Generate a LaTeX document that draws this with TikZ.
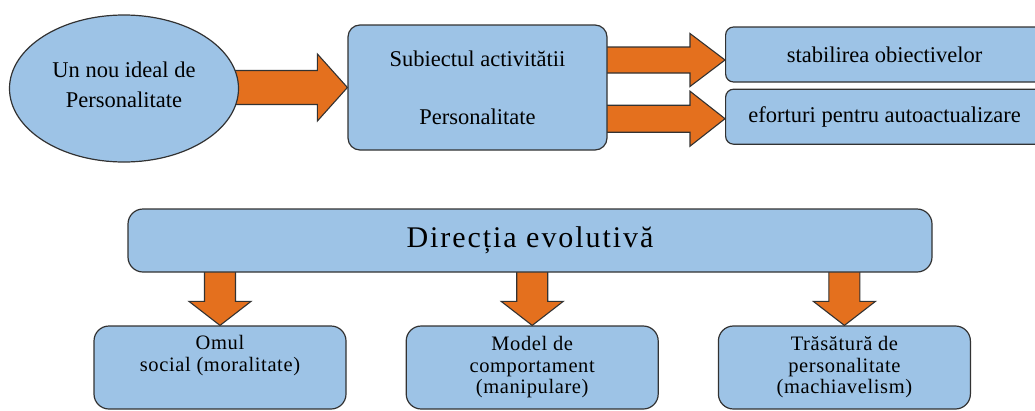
\documentclass[tikz,border=0pt]{standalone}
\usepackage{fontspec}
\setmainfont{Liberation Serif}
\newfontfamily\spacedfont[LetterSpace=3]{Liberation Serif}
\newfontfamily\titlefont[LetterSpace=6.5]{Liberation Serif}
\usetikzlibrary{shapes.geometric, positioning, calc}
\pgfdeclarelayer{background}
\pgfsetlayers{background,main}
\definecolor{boxblue}{RGB}{157,195,230}
\definecolor{arroworange}{RGB}{228,112,30}
\definecolor{outline}{RGB}{50,50,50}
\newcommand{\hblockarrow}[5]{% from, to, half shaft, half head, head length
  \draw[block arrow] let \p1=(#1), \p2=(#2) in
    (\x1,\y2+#3) -- (\x2-#5,\y2+#3) -- (\x2-#5,\y2+#4) -- (\x2,\y2)
    -- (\x2-#5,\y2-#4) -- (\x2-#5,\y2-#3) -- (\x1,\y2-#3) -- cycle;}
\newcommand{\vblockarrow}[5]{%
  \draw[block arrow] let \p1=(#1), \p2=(#2) in
    (\x2-#3,\y1) -- (\x2-#3,\y2+#5) -- (\x2-#4,\y2+#5) -- (\x2,\y2)
    -- (\x2+#4,\y2+#5) -- (\x2+#3,\y2+#5) -- (\x2+#3,\y1) -- cycle;}
\tikzset{
  block arrow/.style={fill=arroworange, draw=outline, line width=1.1pt, line join=miter},
  blue box/.style={draw=outline, fill=boxblue, line width=1.2pt, rounded corners=12pt, inner sep=0pt, align=center},
  blue oval/.style={ellipse, draw=outline, fill=boxblue, line width=1.2pt, inner sep=0pt, align=center},
}

\begin{document}
\begin{tikzpicture}[x=1pt, y=-1pt, font=\fontsize{22.5}{29}\selectfont]
    \useasboundingbox (0,0) rectangle (1035,410);

    \node[blue oval, minimum width=229, minimum height=147, font=\fontsize{22.5}{30}\selectfont] (ideal) at (124,88.5) {Un nou ideal de\\Personalitate\\[-22pt]};
    \node[blue box, minimum width=259, minimum height=125, font=\fontsize{22.5}{27}\selectfont] (subject) at (477.5,87.5) {Subiectul activitătii\\[31pt]Personalitate};
    \node[blue box, rounded corners=8pt, minimum width=318, minimum height=55, anchor=west] (goals) at (725,54.5) {stabilirea obiectivelor};
    \node[blue box, rounded corners=8pt, minimum width=318, minimum height=55, below=6pt of goals] (efforts) {eforturi pentru autoactualizare};

    \node[blue box, rounded corners=15pt, minimum width=804, minimum height=63, font=\fontsize{30}{34}\selectfont\titlefont] (direction) at (530,240.5) {Direcția evolutivă};
    \begin{scope}[every node/.style={blue box, rounded corners=15pt, minimum width=252, minimum height=83, font=\fontsize{20.5}{21.5}\selectfont\spacedfont}]
        \node (social) at (220,367.5) {Omul\\social (moralitate)\\\strut};
        \node[right=59pt of social] (behaviour) {Model de\\comportament\\(manipulare)};
        \node[right=59pt of behaviour] (trait) {Trăsătură de\\personalitate\\(machiavelism)};
    \end{scope}

    \begin{pgfonlayer}{background}
        \hblockarrow{[xshift=-10pt]ideal.east}{subject.west}{17}{33.5}{30}
        \hblockarrow{[xshift=-5pt]subject.east}{[yshift=-5.5pt]goals.west}{13}{26.5}{35}
        \hblockarrow{[xshift=-5pt]subject.east}{[yshift=-2pt]efforts.west}{13.5}{27.5}{35}
        \foreach \target in {social, behaviour, trait} {
            \vblockarrow{[yshift=2pt]direction.south}{\target.north}{15.5}{31}{24}
        }
    \end{pgfonlayer}
\end{tikzpicture}
\end{document}
